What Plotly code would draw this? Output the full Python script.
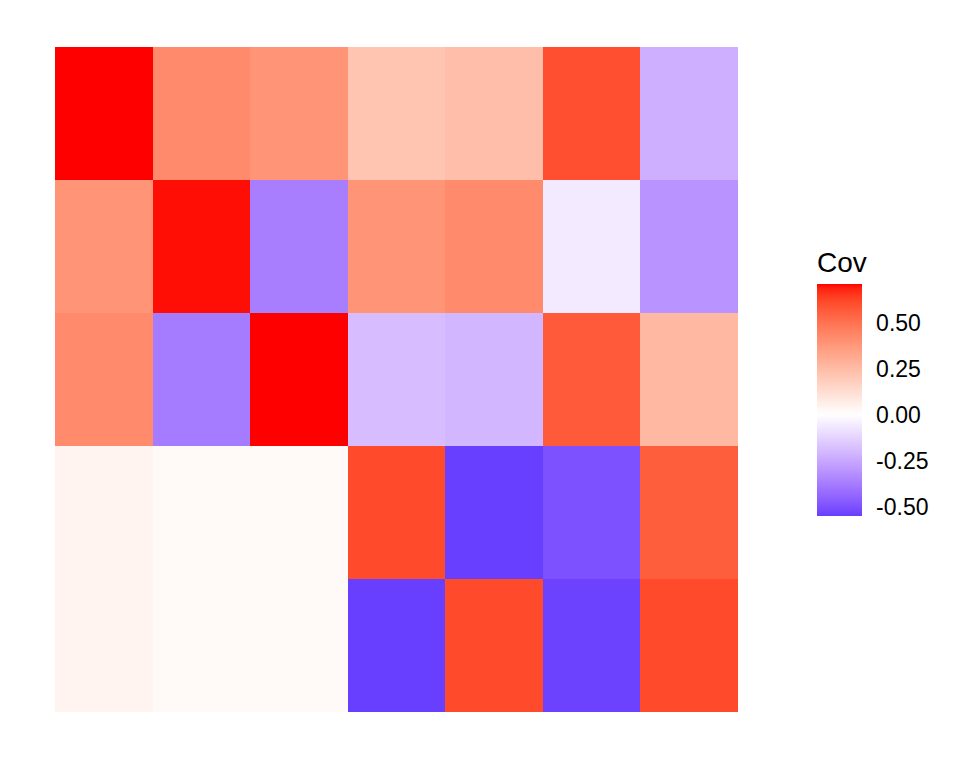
import plotly.graph_objects as go

# data (rows top -> bottom, columns left -> right)
col_ids = [1, 2, 3, 4, 5, 6, 7]
row_ids = [1, 2, 3, 4, 5]
row1 = [0.71, 0.42, 0.39, 0.215, 0.24, 0.60, -0.23]
row2 = [0.39, 0.70, -0.37, 0.39, 0.42, -0.06, -0.31]
row3 = [0.42, -0.38, 0.71, -0.19, -0.21, 0.57, 0.257]
row4 = [0.04, 0.02, 0.02, 0.61, -0.551, -0.50, 0.56]
row5 = [0.04, 0.02, 0.02, -0.55, 0.61, -0.54, 0.61]
tick_vals = [-0.50, -0.25, 0.00, 0.25, 0.50]
tick_text = ["-0.50", "-0.25", "0.00", "0.25", "0.50"]

z = [row1, row2, row3, row4, row5]
zmin = min(min(r) for r in z)
zmax = max(max(r) for r in z)

# --- Lab interpolation colour scale (white mid, red high, blue low) ---
def srgb_to_lin(c):
    c = c / 255.0
    return c / 12.92 if c <= 0.04045 else ((c + 0.055) / 1.055) ** 2.4

def lin_to_srgb(c):
    c = min(max(c, 0.0), 1.0)
    v = 12.92 * c if c <= 0.0031308 else 1.055 * c ** (1 / 2.4) - 0.055
    return int(round(v * 255))

WX, WY, WZ = 0.95047, 1.0, 1.08883

def rgb_to_lab(rgb):
    r, g, b = [srgb_to_lin(c) for c in rgb]
    X = 0.4124 * r + 0.3576 * g + 0.1805 * b
    Y = 0.2126 * r + 0.7152 * g + 0.0722 * b
    Z = 0.0193 * r + 0.1192 * g + 0.9505 * b
    def f(t):
        return t ** (1 / 3) if t > 0.008856 else 7.787 * t + 16 / 116
    fx, fy, fz = f(X / WX), f(Y / WY), f(Z / WZ)
    return (116 * fy - 16, 500 * (fx - fy), 200 * (fy - fz))

def lab_to_rgb(lab):
    L, a, b = lab
    fy = (L + 16) / 116
    fx = fy + a / 500
    fz = fy - b / 200
    def finv(t):
        return t ** 3 if t ** 3 > 0.008856 else (t - 16 / 116) / 7.787
    X, Y, Z = WX * finv(fx), WY * finv(fy), WZ * finv(fz)
    r = 3.2406 * X - 1.5372 * Y - 0.4986 * Z
    g = -0.9689 * X + 1.8758 * Y + 0.0415 * Z
    bb = 0.0557 * X - 0.2040 * Y + 1.0570 * Z
    return (lin_to_srgb(r), lin_to_srgb(g), lin_to_srgb(bb))

LAB_W = rgb_to_lab((255, 255, 255))
LAB_R = rgb_to_lab((255, 0, 0))
LAB_B = rgb_to_lab((0, 0, 255))

def mix(l1, l2, t):
    return tuple(a + (b - a) * t for a, b in zip(l1, l2))

blue_span = 0.664  # value at which full blue would be reached
red_span = 0.71
stops = []
n = 60
for i in range(n + 1):
    v = zmin + (zmax - zmin) * i / n
    if v < 0:
        lab = mix(LAB_W, LAB_B, min(-v / blue_span, 1))
    else:
        lab = mix(LAB_W, LAB_R, min(v / red_span, 1))
    r, g, b = lab_to_rgb(lab)
    stops.append([i / n, f"rgb({r},{g},{b})"])

fig = go.Figure(go.Heatmap(
    z=z, x=col_ids, y=row_ids,
    zmin=zmin, zmax=zmax,
    colorscale=stops,
    xgap=0, ygap=0,
    colorbar=dict(
        title=dict(text="Cov", side="top", font=dict(size=28, color="black")),
        tickvals=tick_vals, ticktext=tick_text,
        ticks="outside", ticklen=10, tickcolor="white", tickwidth=1,
        tickfont=dict(size=23, color="black"),
        thickness=45, thicknessmode="pixels",
        len=268, lenmode="pixels",
        x=1.1157, xanchor="left", y=0.2947, yanchor="bottom",
        outlinewidth=0, xpad=0, ypad=0,
    ),
))

fig.update_xaxes(range=[0.5, 7.5], showgrid=False, zeroline=False,
                 showticklabels=False, ticks="", showline=False)
fig.update_yaxes(range=[5.5, 0.5], showgrid=False, zeroline=False,
                 showticklabels=False, ticks="", showline=False)

fig.update_layout(
    width=960, height=768,
    margin=dict(l=47, r=230, t=39, b=64),
    plot_bgcolor="white", paper_bgcolor="white",
    font=dict(family="Liberation Sans, Arial, sans-serif", color="black"),
)

fig.write_html("out.html")
